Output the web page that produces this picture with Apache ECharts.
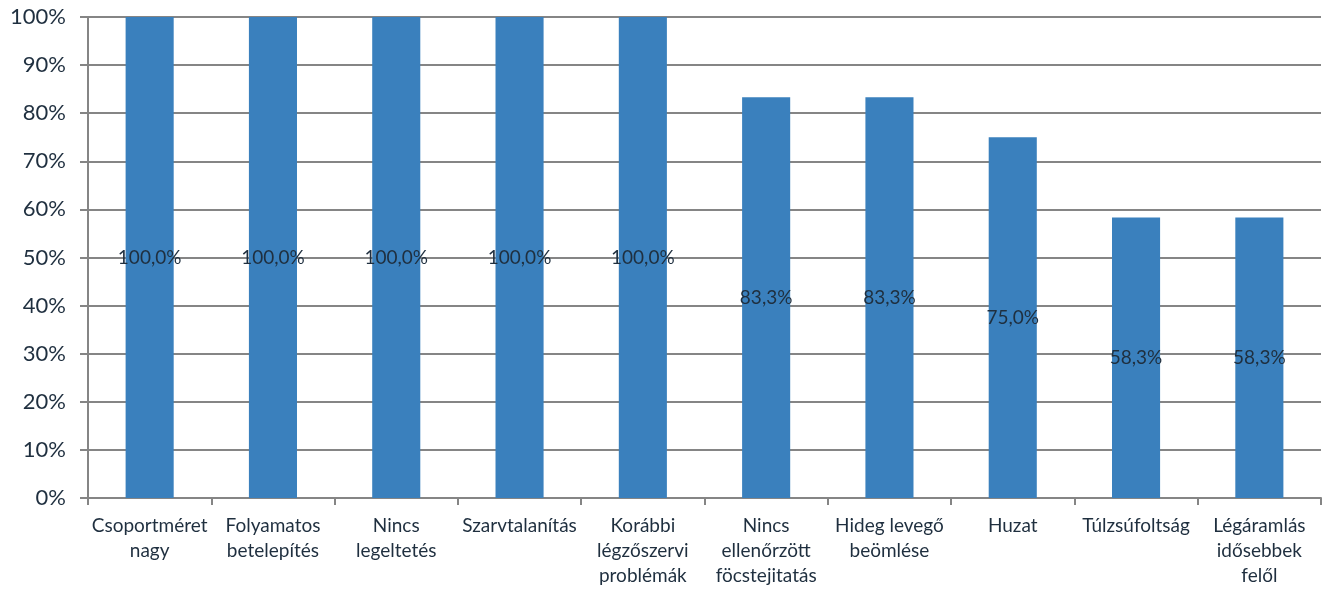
<!DOCTYPE html>
<html>
<head>
<meta charset="utf-8">
<script src="https://cdn.jsdelivr.net/npm/echarts@6/dist/echarts.min.js"></script>
<style>
  html, body { margin: 0; padding: 0; background: #fff; }
  #chart { width: 1324px; height: 589px; }
</style>
</head>
<body>
<div id="chart"></div>
<script>
// Risk factors (Hungarian) and their share of affected herds, in percent
const categories = [
  'Csoportméret\nnagy',
  'Folyamatos\nbetelepítés',
  'Nincs\nlegeltetés',
  'Szarvtalanítás',
  'Korábbi\nlégzőszervi\nproblémák',
  'Nincs\nellenőrzött\nföcstejitatás',
  'Hideg levegő\nbeömlése',
  'Huzat',
  'Túlzsúfoltság',
  'Légáramlás\nidősebbek\nfelől'
];
const shares = [100, 100, 100, 100, 100, 83.3, 83.3, 75, 58.3, 58.3];
const yTicks = [0, 10, 20, 30, 40, 50, 60, 70, 80, 90, 100];

const FONT = 'Lato, "Open Sans", sans-serif';
const GRID_COLOR = '#858585';
const TEXT_COLOR = '#1f2f3f';

const chart = echarts.init(document.getElementById('chart'));
chart.setOption({
  animation: false,
  grid: { left: 88, right: 3, top: 17, bottom: 91, containLabel: false },
  xAxis: {
    type: 'category',
    data: categories,
    axisLine: { show: true, lineStyle: { color: GRID_COLOR, width: 2 } },
    axisTick: { show: true, alignWithLabel: false, length: 7, lineStyle: { color: GRID_COLOR, width: 2 } },
    axisLabel: {
      interval: 0,
      color: TEXT_COLOR,
      fontFamily: FONT,
      fontSize: 19,
      lineHeight: 25,
      margin: 15
    }
  },
  yAxis: {
    type: 'value',
    min: 0,
    max: 100,
    interval: 10,
    axisLine: { show: true, lineStyle: { color: GRID_COLOR, width: 2 } },
    axisTick: { show: true, length: 8, lineStyle: { color: GRID_COLOR, width: 2 } },
    splitLine: { show: true, lineStyle: { color: GRID_COLOR, width: 2 } },
    axisLabel: {
      color: TEXT_COLOR,
      fontFamily: FONT,
      fontSize: 22,
      margin: 22,
      formatter: v => (yTicks.includes(v) ? v + '%' : '')
    }
  },
  series: [{
    type: 'bar',
    data: shares,
    barWidth: '39%',
    itemStyle: { color: '#3a80bd' },
    label: {
      show: true,
      position: 'inside',
      color: TEXT_COLOR,
      fontFamily: FONT,
      fontSize: 19,
      formatter: p => p.value.toFixed(1).replace('.', ',') + '%'
    }
  }]
});
</script>
</body>
</html>
